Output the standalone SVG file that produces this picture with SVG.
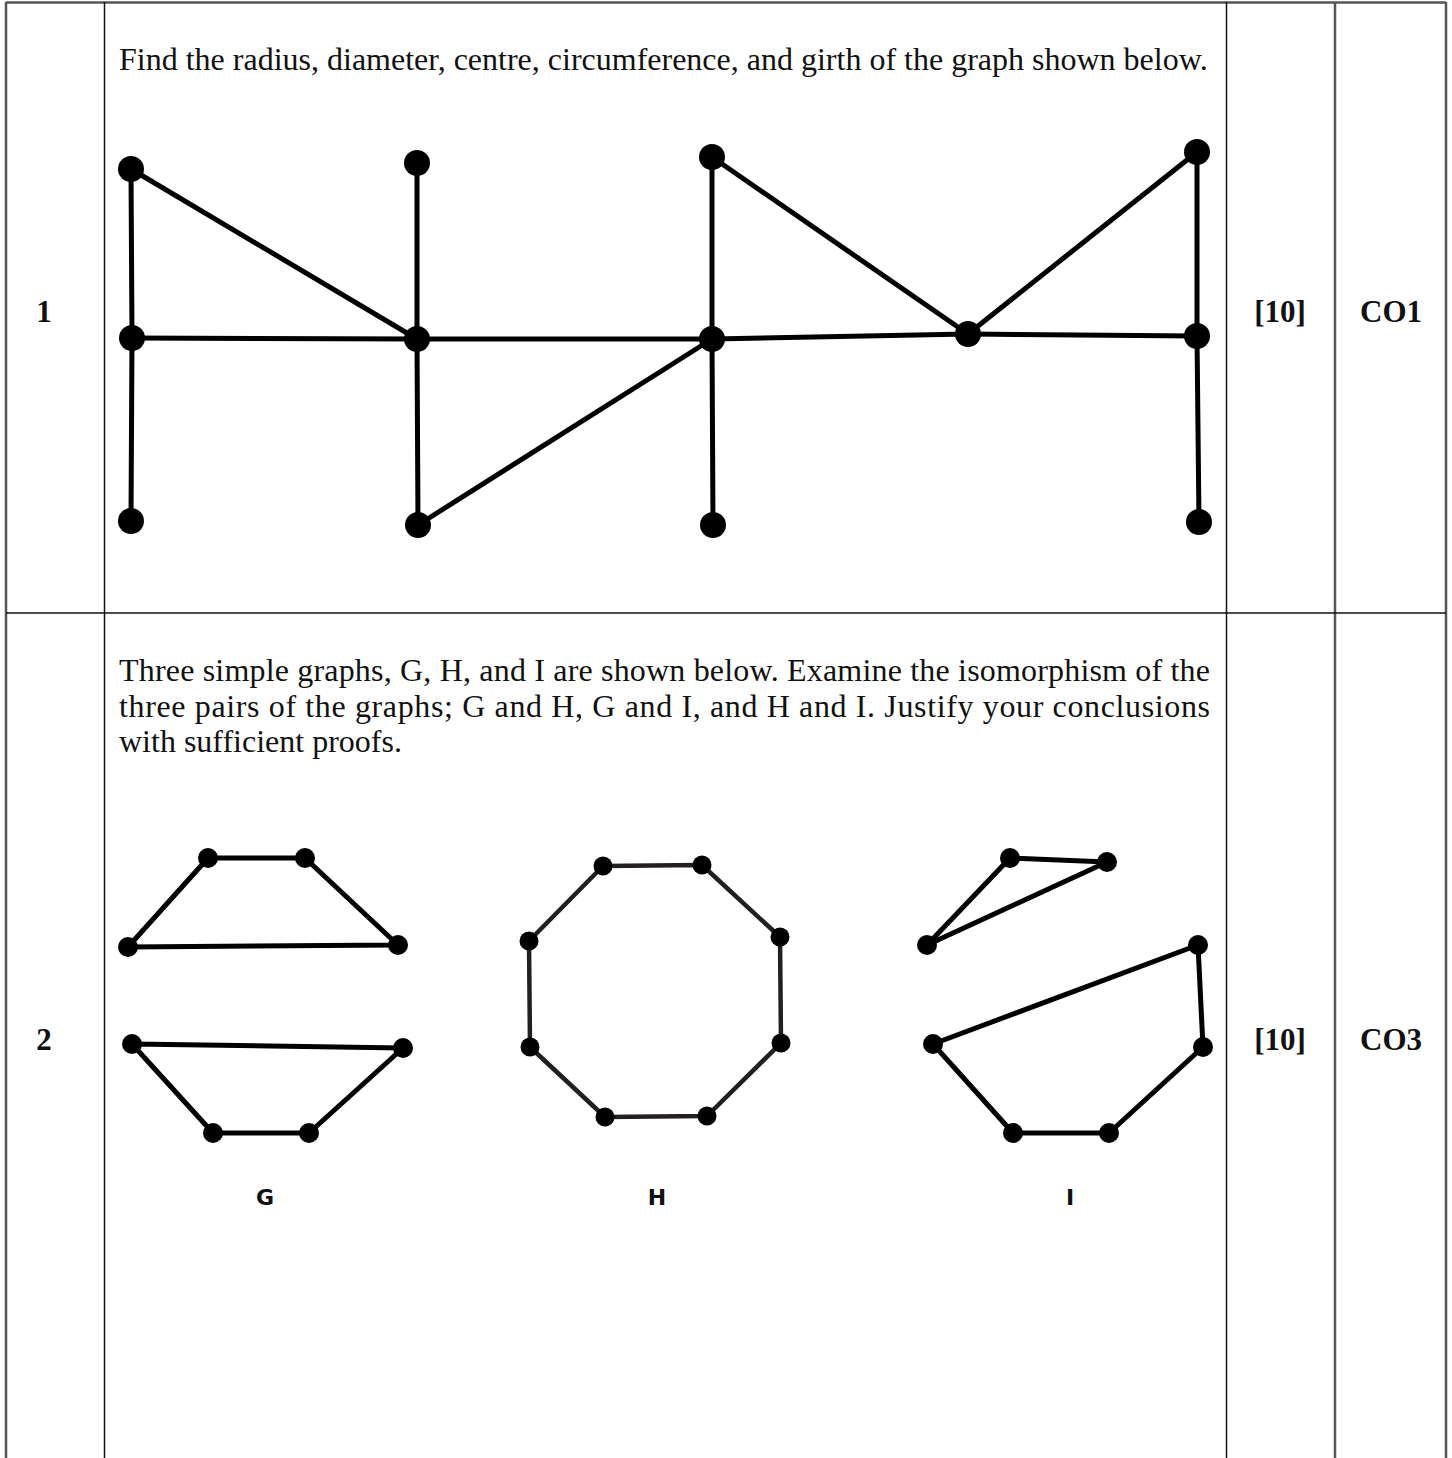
<svg xmlns="http://www.w3.org/2000/svg" width="1452" height="1458" viewBox="0 0 1452 1458">
<style>
.outer{stroke:#555;stroke-width:2.5;fill:none}
.inner{stroke:#111;stroke-width:1.5;fill:none}
.q{font-family:"Liberation Serif","Times New Roman",serif;font-size:32px;fill:#111}
.num{font-family:"Liberation Serif","Times New Roman",serif;font-size:31px;font-weight:bold;fill:#111;text-anchor:middle}
.lbl{font-family:"DejaVu Sans",sans-serif;font-size:22px;font-weight:bold;fill:#111;text-anchor:middle}
.e{stroke:#000;stroke-width:5;fill:none;stroke-linecap:round}
.e2{stroke:#000;stroke-width:5;fill:none;stroke-linejoin:round}
.eh{stroke:#231f20;stroke-width:4.5;fill:none;stroke-linejoin:round}
.n{fill:#000}
</style>
<rect width="1452" height="1458" fill="#fff"/>
<g id="table">
<line class="outer" x1="6" y1="2.5" x2="1446" y2="2.5"/>
<line class="outer" x1="6" y1="2" x2="6" y2="1458"/>
<line class="outer" x1="1446" y1="2" x2="1446" y2="1458"/>
<line class="inner" x1="104.5" y1="2" x2="104.5" y2="1458"/>
<line class="inner" x1="1226.5" y1="2" x2="1226.5" y2="1458"/>
<line class="outer" x1="1335" y1="2" x2="1335" y2="1458"/>
<line class="inner" x1="6" y1="613" x2="1446" y2="613"/>
</g>
<g id="row1-text">
<text class="num" x="44" y="322">1</text>
<text class="num" x="1280" y="322">[10]</text>
<text class="num" x="1391" y="322">CO1</text>
<text class="q" x="119" y="70">Find the radius, diameter, centre, circumference, and girth of the graph shown below.</text>
</g>
<g id="connectors-1">
<line class="e" x1="131" y1="169" x2="132" y2="338"/>
<line class="e" x1="132" y1="338" x2="131" y2="521"/>
<line class="e" x1="131" y1="169" x2="417" y2="339"/>
<line class="e" x1="132" y1="338" x2="417" y2="339"/>
<line class="e" x1="417" y1="163" x2="417" y2="339"/>
<line class="e" x1="417" y1="339" x2="418" y2="525"/>
<line class="e" x1="417" y1="339" x2="712" y2="339"/>
<line class="e" x1="418" y1="525" x2="712" y2="339"/>
<line class="e" x1="712" y1="157" x2="712" y2="339"/>
<line class="e" x1="712" y1="339" x2="713" y2="525"/>
<line class="e" x1="712" y1="157" x2="968" y2="334"/>
<line class="e" x1="712" y1="339" x2="968" y2="334"/>
<line class="e" x1="968" y1="334" x2="1197" y2="152"/>
<line class="e" x1="968" y1="334" x2="1197" y2="336"/>
<line class="e" x1="1197" y1="152" x2="1197" y2="336"/>
<line class="e" x1="1197" y1="336" x2="1199" y2="522"/>
</g>
<g id="nodes-1" class="n">
<circle id="n1a" cx="131" cy="169" r="13"/>
<circle id="n1b" cx="132" cy="338" r="13"/>
<circle id="n1c" cx="131" cy="521" r="13"/>
<circle id="n1d" cx="417" cy="163" r="13"/>
<circle id="n1e" cx="417" cy="339" r="13"/>
<circle id="n1f" cx="418" cy="525" r="13"/>
<circle id="n1g" cx="712" cy="157" r="13"/>
<circle id="n1h" cx="712" cy="339" r="13"/>
<circle id="n1i" cx="713" cy="525" r="13"/>
<circle id="n1j" cx="968" cy="334" r="13"/>
<circle id="n1k" cx="1197" cy="152" r="13"/>
<circle id="n1l" cx="1197" cy="336" r="13"/>
<circle id="n1m" cx="1199" cy="522" r="13"/>
</g>
<g id="row2-text">
<text class="num" x="44" y="1050">2</text>
<text class="num" x="1280" y="1050">[10]</text>
<text class="num" x="1391" y="1050">CO3</text>
<text class="q" x="119" y="681" textLength="1091" lengthAdjust="spacing">Three simple graphs, G, H, and I are shown below. Examine the isomorphism of the</text>
<text class="q" x="119" y="717" textLength="1091" lengthAdjust="spacing">three pairs of the graphs; G and H, G and I, and H and I. Justify your conclusions</text>
<text class="q" x="119" y="752">with sufficient proofs.</text>
<text class="lbl" x="265" y="1205">G</text>
<text class="lbl" x="657" y="1205">H</text>
<text class="lbl" x="1070" y="1205">I</text>
</g>
<g id="connectors-2">
<polygon class="e2" points="128,947 208,858 305,858 398,945"/>
<polygon class="e2" points="132,1044 403,1048 309,1133 213,1133"/>
<polygon class="eh" points="603,866 702,865 780,937 781,1043 707,1116 605,1117 530,1047 529,941"/>
<polygon class="e2" points="1010,858 1107,862 927,945"/>
<polygon class="e2" points="933,1044 1198,945 1203,1047 1109,1133 1013,1133"/>
</g>
<g id="nodes-G" class="n">
<circle cx="208" cy="858" r="10"/><circle cx="305" cy="858" r="10"/>
<circle cx="128" cy="947" r="10"/><circle cx="398" cy="945" r="10"/>
<circle cx="132" cy="1044" r="10"/><circle cx="403" cy="1048" r="10"/>
<circle cx="213" cy="1133" r="10"/><circle cx="309" cy="1133" r="10"/>
</g>
<g id="nodes-H" class="n">
<circle cx="603" cy="866" r="9.5"/><circle cx="702" cy="865" r="9.5"/>
<circle cx="780" cy="937" r="9.5"/><circle cx="781" cy="1043" r="9.5"/>
<circle cx="707" cy="1116" r="9.5"/><circle cx="605" cy="1117" r="9.5"/>
<circle cx="530" cy="1047" r="9.5"/><circle cx="529" cy="941" r="9.5"/>
</g>
<g id="nodes-I" class="n">
<circle cx="1010" cy="858" r="10"/><circle cx="1107" cy="862" r="10"/>
<circle cx="927" cy="945" r="10"/><circle cx="1198" cy="945" r="10"/>
<circle cx="1203" cy="1047" r="10"/><circle cx="933" cy="1044" r="10"/>
<circle cx="1013" cy="1133" r="10"/><circle cx="1109" cy="1133" r="10"/>
</g>
</svg>
